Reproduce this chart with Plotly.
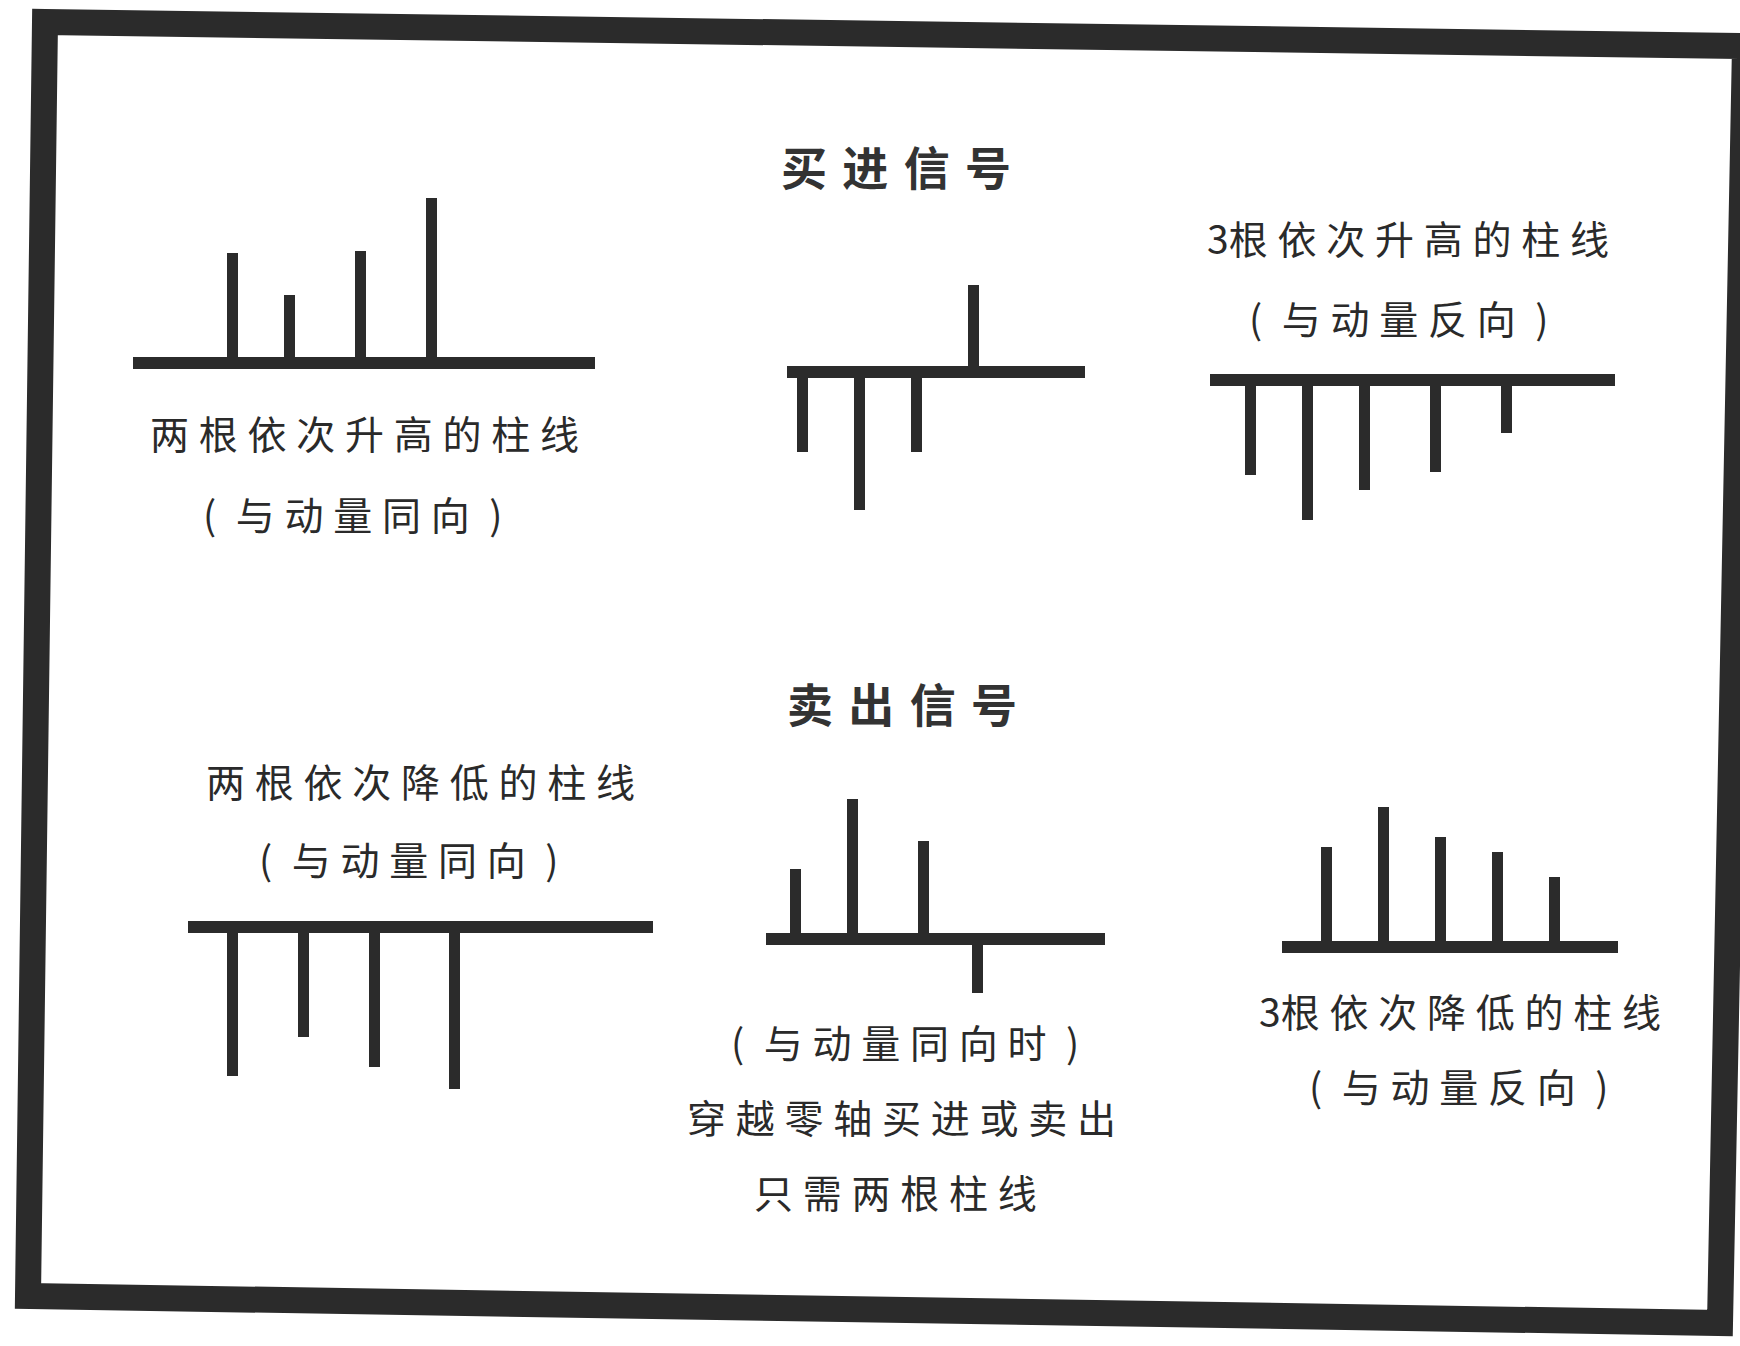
import plotly.graph_objects as go

## Canvas
# ======================================
W, H = 1740, 1346

## Data: bar positions (time steps) and bar values (momentum) per panel
# ======================================
titles = ['买进信号', '卖出信号']

panel_x = [
    [1, 2, 3.25, 4.5],          # buy, same direction
    [1, 2, 3, 4],               # buy, zero cross
    [1, 2, 3, 4.25, 5.5],       # buy, opposite direction
    [1, 2.25, 3.5, 4.9],        # sell, same direction
    [1, 2, 3.25, 4.2],          # sell, zero cross
    [1, 2, 3, 4, 5],            # sell, opposite direction
]
panel_y = [
    [1.1, 0.68, 1.12, 1.65],
    [-0.8, -1.38, -0.8, 0.87],
    [-0.95, -1.4, -1.1, -0.92, -0.53],
    [-1.49, -1.1, -1.4, -1.62],
    [0.7, 1.4, 0.98, -0.54],
    [1.0, 1.4, 1.1, 0.95, 0.7],
]
panel_labels = [
    ['两根依次升高的柱线', '(与动量同向)'],
    [],
    ['3根依次升高的柱线', '(与动量反向)'],
    ['两根依次降低的柱线', '(与动量同向)'],
    ['(与动量同向时)', '穿越零轴买进或卖出', '只需两根柱线'],
    ['3根依次降低的柱线', '(与动量反向)'],
]

## Layout (pixels): zero-axis left, right, first bar x, zero-axis y
# ======================================
panel_box = [
    (133, 595, 232, 363),
    (787, 1085, 802, 372),
    (1210, 1615, 1250, 380),
    (188, 653, 232, 927),
    (766, 1105, 795, 939),
    (1282, 1618, 1326, 947),
]
label_pos = [
    [(364, 432), (352, 513)],
    [],
    [(1408, 237), (1398, 317)],
    [(420, 780), (408, 858)],
    [(905, 1041), (901, 1116), (895, 1191)],
    [(1460, 1010), (1458, 1085)],
]
title_pos = [(896, 165), (902, 702)]

SX = 57     # px per time step
SY = 100    # px per value unit
HALF = 250  # half height of each panel in px
INK = '#2b2b2b'
FONT = 'Noto Sans CJK SC'


def px_x(p):
    return p / W


def px_y(p):
    return 1 - p / H


def spaced(s, gap='\u2005'):
    # letter spacing as in the scan; digits stay tight, parens get an en space
    out = ''
    for k, ch in enumerate(s):
        out += ch
        if k == len(s) - 1:
            continue
        nxt = s[k + 1]
        if ch.isdigit():
            continue
        if ch == '(' or nxt == ')':
            out += '\u2002'
        else:
            out += gap
    return out


fig = go.Figure()
layout = {}

## Panels:
# --------------------------------------
for i, (xs, ys) in enumerate(zip(panel_x, panel_y)):
    n = '' if i == 0 else str(i + 1)
    L, R, fb, by = panel_box[i]
    x0 = xs[0]
    fig.add_trace(go.Bar(
        x=xs, y=ys,
        width=11 / SX,
        marker=dict(color=INK, line=dict(width=0)),
        xaxis='x' + n, yaxis='y' + n,
        hoverinfo='none',
        showlegend=False,
    ))
    layout['xaxis' + n] = dict(
        domain=[px_x(L), px_x(R)],
        range=[x0 - (fb - L) / SX, x0 + (R - fb) / SX],
        anchor='y' + n, visible=False, fixedrange=True,
    )
    layout['yaxis' + n] = dict(
        domain=[px_y(by + HALF), px_y(by - HALF)],
        range=[-HALF / SY, HALF / SY],
        anchor='x' + n, showgrid=False, showticklabels=False,
        showline=False, ticks='',
        zeroline=True, zerolinecolor=INK, zerolinewidth=12,
        fixedrange=True,
    )

fig.update_layout(**layout)

## Texts:
# --------------------------------------
for t, (cx, cy) in zip(titles, title_pos):
    fig.add_annotation(
        text='<b>' + spaced(t, '\u2004') + '</b>', x=px_x(cx), y=px_y(cy),
        xref='paper', yref='paper', xanchor='center', yanchor='middle',
        showarrow=False, font=dict(family=FONT, size=46, color='#333333'),
    )

for labels, pos in zip(panel_labels, label_pos):
    for t, (cx, cy) in zip(labels, pos):
        fig.add_annotation(
            text=spaced(t), x=px_x(cx), y=px_y(cy),
            xref='paper', yref='paper', xanchor='center', yanchor='middle',
            showarrow=False, font=dict(family=FONT, size=39, color='#2a2a2a'),
        )

## Frame (slightly rotated, as in the scan):
# --------------------------------------
corners = [(45, 22), (1745, 46), (1720, 1323), (28, 1296)]
path = 'M ' + ' L '.join(f'{px_x(a):.5f},{px_y(b):.5f}' for a, b in corners) + ' Z'
fig.add_shape(type='path', path=path, xref='paper', yref='paper',
              line=dict(color=INK, width=26))

fig.update_layout(
    width=W, height=H,
    margin=dict(l=0, r=0, t=0, b=0),
    paper_bgcolor='white',
    plot_bgcolor='rgba(0,0,0,0)',
    bargap=0,
)

# page body has a default 8px margin; drop it so the figure fills the window
fig.write_html("out.html", config={'displayModeBar': False},
               post_script="document.body.style.margin='0';")
